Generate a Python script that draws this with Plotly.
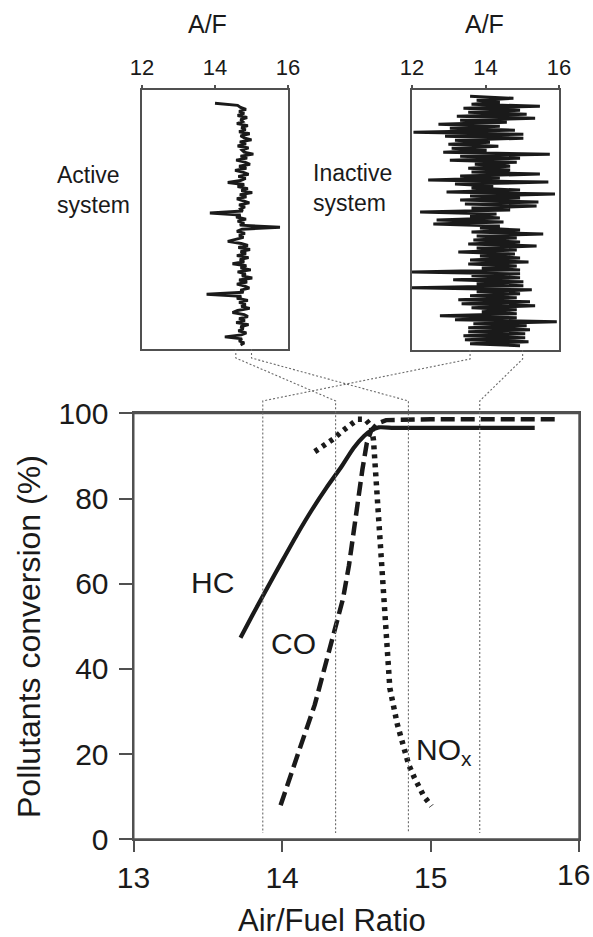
import plotly.graph_objects as go

W, H = 593, 937

# ---------------- data ----------------
hc_x = [13.72, 13.80, 13.90, 14.00, 14.10, 14.20, 14.30, 14.40, 14.48, 14.55, 14.60, 14.65, 14.75, 15.00, 15.40, 15.70]
hc_y = [47.3, 52.6, 59.0, 65.3, 71.5, 77.3, 82.6, 87.5, 91.8, 94.6, 96.0, 96.7, 96.6, 96.6, 96.6, 96.6]

co_x = [13.99, 14.05, 14.12, 14.22, 14.29, 14.34, 14.41, 14.45, 14.48, 14.51, 14.54, 14.57, 14.60, 14.64, 14.70, 15.00, 15.40, 15.86]
co_y = [8.0, 14.5, 21.4, 31.6, 40.9, 47.2, 56.5, 64.3, 72.1, 80.0, 86.7, 93.0, 96.0, 97.6, 98.4, 98.6, 98.6, 98.6]

nox_x = [14.22, 14.29, 14.35, 14.40, 14.46, 14.51, 14.56, 14.60, 14.615, 14.625, 14.636, 14.645, 14.655,
         14.674, 14.70, 14.725, 14.776, 14.827, 14.852, 14.891, 14.954, 15.005]
nox_y = [91.0, 92.6, 94.1, 95.7, 97.3, 98.6, 98.6, 97.0, 93.7, 88.3, 82.8, 77.3, 70.0,
         58.8, 46.4, 35.5, 26.9, 20.3, 17.5, 14.4, 10.1, 7.8]

x_ticks = [13, 14, 15, 16]
x_ticktext = ["13", "14", "15", ""]   # the last label is placed separately so it stays inside the page
last_x_label = "16"
y_ticks = [0, 20, 40, 60, 80, 100]
af_ticks = [12, 14, 16]

# A/F traces (top to bottom in time)
active_af = [14.00, 14.62, 14.70, 14.85, 14.66, 14.80, 14.62, 14.88, 14.70, 14.76, 14.60, 14.90, 14.72, 14.84,
             14.66, 14.95, 14.70, 14.80, 15.00, 14.68, 14.85, 14.62, 14.92, 14.74, 14.80, 15.05, 14.70, 14.88,
             14.58, 14.82, 14.96, 14.66, 14.86, 14.55, 14.78, 14.92, 14.64, 14.84, 14.70, 14.35, 14.80, 14.62,
             14.90, 14.72, 15.02, 14.68, 14.86, 14.60, 14.78, 14.94, 14.66, 14.82, 14.70, 14.76, 13.86, 14.70,
             14.58, 14.85, 14.62, 14.80, 14.68, 15.78, 14.74, 14.60, 14.82, 14.66, 14.78, 14.55, 14.35, 14.72,
             14.90, 14.64, 14.96, 14.70, 14.85, 14.60, 14.92, 14.68, 14.80, 14.48, 14.86, 14.70, 14.98, 14.62,
             14.84, 14.74, 15.02, 14.66, 14.88, 14.60, 14.82, 14.94, 14.70, 14.78, 13.77, 14.72, 14.60, 14.90,
             14.66, 14.84, 14.72, 14.95, 14.62, 14.48, 14.80, 14.90, 14.66, 14.82, 14.58, 14.92, 14.70, 14.78,
             14.64, 14.86, 14.72, 14.27, 14.74, 14.66, 14.80, 14.70]

inactive_af = [13.58, 14.76, 13.76, 14.39, 13.62, 15.48, 13.40, 14.94, 13.53, 15.12, 13.22, 15.35, 13.31, 14.58,
               12.72, 14.39, 13.03, 14.80, 12.04, 15.03, 12.90, 15.03, 13.17, 14.12, 12.99, 14.35, 13.08, 14.03,
               12.85, 15.75, 13.31, 14.94, 13.03, 14.85, 13.71, 14.67, 13.53, 14.67, 13.62, 15.48, 13.31, 14.39,
               12.44, 15.71, 13.17, 14.21, 13.62, 14.94, 12.94, 15.89, 13.58, 14.94, 13.31, 15.44, 13.44, 15.39,
               13.62, 14.67, 12.22, 14.30, 13.58, 14.39, 12.67, 14.49, 12.58, 14.39,
               13.85, 14.94, 13.62, 15.57, 13.76, 14.85, 13.67, 14.94, 13.53, 15.39, 13.76, 14.85, 13.26, 14.80,
               13.85, 14.94, 13.58, 15.17, 13.53, 14.85, 13.90, 14.94, 12.00, 14.94, 13.62, 14.94, 13.12, 15.03,
               13.76, 15.03, 12.00, 15.26, 13.76, 14.94, 13.58, 14.85, 13.26, 15.21, 13.35, 15.35, 13.62, 14.85,
               13.90, 14.85, 12.76, 14.85, 13.17, 15.94, 13.67, 15.12, 13.53, 15.21, 13.53, 15.08, 13.40, 15.08,
               13.44, 15.17, 13.58, 14.94]

# vertical marks on the main chart and where they meet the insets
main_marks = [13.87, 14.36, 14.85, 15.33]
active_marks = [14.57, 15.00]      # -> main 14.36, 14.85
inactive_marks = [13.58, 15.01]    # -> main 13.87, 15.33
mark_bottom, mark_top = 1.5, 102.9

# ---------------- layout geometry (page pixels) ----------------
MX, MY = (133.5, 579.3), (413.3, 839.3)
AX, AY = (142, 288), (90, 349)
IX, IY = (412, 559), (90, 350)
FONT = "Liberation Sans, Arial, Helvetica, sans-serif"
INK = "#1a1a1a"
FRAME = "#505050"


def pxp(x):
    return x / W


def pyp(y):
    return 1 - y / H


def main_x(v):
    return pxp(MX[0] + (v - 13) / 3 * (MX[1] - MX[0]))


def main_y(v):
    return pyp(MY[1] - v / 100 * (MY[1] - MY[0]))


def inset_x(v, box):
    return pxp(box[0] + (v - 12) / 4 * (box[1] - box[0]))


fig = go.Figure()
fig.add_trace(go.Scatter(x=hc_x, y=hc_y, mode="lines", line=dict(color=INK, width=4.2, shape="spline", smoothing=0.6),
                         xaxis="x", yaxis="y"))
fig.add_trace(go.Scatter(x=co_x, y=co_y, mode="lines", line=dict(color=INK, width=4.5, dash="14px,6px"),
                         xaxis="x", yaxis="y"))
fig.add_trace(go.Scatter(x=nox_x, y=nox_y, mode="lines", line=dict(color=INK, width=5.5, dash="4px,5px"),
                         xaxis="x", yaxis="y"))

fig.add_trace(go.Scatter(x=active_af, y=list(range(len(active_af))), mode="lines",
                         line=dict(color=INK, width=2.9), xaxis="x2", yaxis="y2"))
fig.add_trace(go.Scatter(x=inactive_af, y=list(range(len(inactive_af))), mode="lines",
                         line=dict(color=INK, width=3.0), xaxis="x3", yaxis="y3"))


def inset_range(n, top_px, first_px, last_px, bottom_px):
    d = (n - 1) * (bottom_px - top_px) / (last_px - first_px)
    r1 = -(first_px - top_px) / (bottom_px - top_px) * d
    return [r1 + d, r1]


main_axis = dict(showline=True, mirror=True, linecolor=FRAME, linewidth=2, showgrid=False, zeroline=False,
                 automargin=False, ticks="outside", tickcolor=FRAME, tickwidth=2, ticklabeloverflow="allow",
                 tickfont=dict(size=30, color=INK, family=FONT))

inset_x_common = dict(range=[12, 16], tickvals=af_ticks, side="top", showline=True, mirror=True,
                      linecolor=FRAME, linewidth=1.6, showgrid=False, zeroline=False, ticks="outside",
                      automargin=False, ticklen=3, tickcolor=FRAME, tickwidth=1.5, ticklabeloverflow="allow",
                      tickfont=dict(size=22, color=INK, family=FONT), ticklabelstandoff=1)
inset_y_common = dict(showline=True, mirror=True, linecolor=FRAME, linewidth=1.6, showgrid=False,
                      automargin=False, zeroline=False, showticklabels=False, ticks="")

fig.update_layout(
    template="none",
    width=W, height=H, margin=dict(l=0, r=0, t=0, b=0, pad=0, autoexpand=False),
    paper_bgcolor="white", plot_bgcolor="white", showlegend=False,
    font=dict(family=FONT, color=INK),
    xaxis=dict(domain=[pxp(MX[0]), pxp(MX[1])], range=[13, 16], tickvals=x_ticks, ticktext=x_ticktext,
               ticklen=11, anchor="y", ticklabelstandoff=0, **main_axis),
    yaxis=dict(domain=[pyp(MY[1]), pyp(MY[0])], range=[0, 100], tickvals=y_ticks, ticklen=13,
               anchor="x", ticklabelstandoff=4, **main_axis),
    xaxis2=dict(domain=[pxp(AX[0]), pxp(AX[1])], anchor="y2", **inset_x_common),
    yaxis2=dict(domain=[pyp(AY[1]), pyp(AY[0])], anchor="x2",
                range=inset_range(len(active_af), AY[0], 103.3, 345.0, AY[1]), **inset_y_common),
    xaxis3=dict(domain=[pxp(IX[0]), pxp(IX[1])], anchor="y3", **inset_x_common),
    yaxis3=dict(domain=[pyp(IY[1]), pyp(IY[0])], anchor="x3",
                range=inset_range(len(inactive_af), IY[0], 96.3, 345.7, IY[1]), **inset_y_common),
)

# frame of the main chart (right side drawn explicitly as well)
fig.add_shape(type="rect", xref="x domain", yref="y domain", x0=0, x1=1, y0=0, y1=1,
              line=dict(color=FRAME, width=2), layer="above")

# connectors (thin dotted)
stub = 9
conn_style = dict(color="#6a6a6a", width=1.1, dash="2px,2px")
pairs = [(inset_x(active_marks[0], AX), AY[1], main_marks[1]),
         (inset_x(active_marks[1], AX), AY[1], main_marks[2]),
         (inset_x(inactive_marks[0], IX), IY[1], main_marks[0]),
         (inset_x(inactive_marks[1], IX), IY[1], main_marks[3])]
for xi, yb, mv in pairs:
    path = (f"M {xi} {pyp(yb)} L {xi} {pyp(yb + stub)} L {main_x(mv)} {main_y(mark_top)} "
            f"L {main_x(mv)} {main_y(mark_bottom)}")
    fig.add_shape(type="path", path=path, xref="paper", yref="paper", line=conn_style, layer="above")

ann = []
big = dict(size=30, color=INK, family=FONT)
C = dict(showarrow=False, xanchor="center", yanchor="middle")
ann.append(dict(x=13.53, y=60.4, xref="x", yref="y", text="HC", font=big, **C))
ann.append(dict(x=14.08, y=46.0, xref="x", yref="y", text="CO", font=big, **C))
ann.append(dict(x=14.89, y=20.6, xref="x", yref="y", text="NO<sub>x</sub>", font=big,
                showarrow=False, xanchor="left", yanchor="middle"))
ann.append(dict(x=x_ticks[-1], y=pyp(874), xref="x", yref="paper", text=last_x_label, font=big,
                showarrow=False, xanchor="center", yanchor="middle", xshift=-6))
ann.append(dict(x=pxp(29), y=pyp(637), xref="paper", yref="paper", text="Pollutants conversion (%)",
                textangle=-90, font=dict(size=32, color=INK, family=FONT), **C))
ann.append(dict(x=pxp(332), y=pyp(920), xref="paper", yref="paper", text="Air/Fuel Ratio",
                font=dict(size=31, color=INK, family=FONT), **C))
ann.append(dict(x=pxp(207), y=pyp(24), xref="paper", yref="paper", text="A/F",
                font=dict(size=25, color=INK, family=FONT), **C))
ann.append(dict(x=pxp(484), y=pyp(24), xref="paper", yref="paper", text="A/F",
                font=dict(size=25, color=INK, family=FONT), **C))
ann.append(dict(x=pxp(55), y=pyp(190), xref="paper", yref="paper", text="Active<br>system", align="left",
                xanchor="left", yanchor="middle", showarrow=False, font=dict(size=23, color=INK, family=FONT)))
ann.append(dict(x=pxp(311), y=pyp(188), xref="paper", yref="paper", text="Inactive<br>system", align="left",
                xanchor="left", yanchor="middle", showarrow=False, font=dict(size=23, color=INK, family=FONT)))
fig.update_layout(annotations=ann)

# remove the page's default body margin and scrollbars so the 593x937 figure fills the window exactly
page_fix = ("document.documentElement.style.overflow='hidden';"
            "document.body.style.overflow='hidden';"
            "document.body.style.margin='0px';")
fig.write_html("out.html", post_script=page_fix, config={"displayModeBar": False})
